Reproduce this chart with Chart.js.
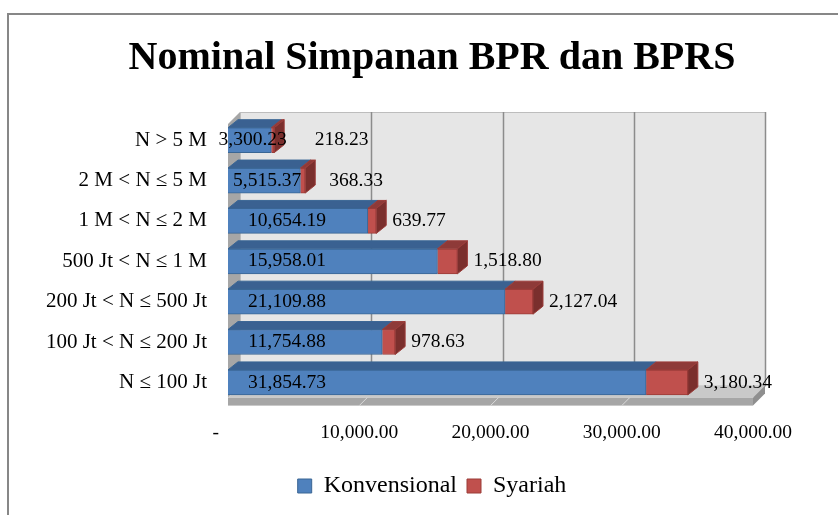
<!DOCTYPE html>
<html>
<head>
<meta charset="utf-8">
<script src="https://cdn.jsdelivr.net/npm/chart.js@4"></script>
<style>
  html, body { margin: 0; padding: 0; background: #fff; }
</style>
</head>
<body>
<canvas id="chart" width="838" height="515"></canvas>
<script>
const categories = ["N > 5 M", "2 M < N ≤ 5 M", "1 M < N ≤ 2 M", "500 Jt < N ≤ 1 M", "200 Jt < N ≤ 500 Jt", "100 Jt < N ≤ 200 Jt", "N ≤ 100 Jt"];
const konvensional = [3300.23, 5515.37, 10654.19, 15958.01, 21109.88, 11754.88, 31854.73];
const syariah = [218.23, 368.33, 639.77, 1518.80, 2127.04, 978.63, 3180.34];
const xTicks = [0, 10000, 20000, 30000, 40000];

const serif = "'Liberation Serif', 'DejaVu Serif', serif";

function fmt(v) {
    return v.toLocaleString("en-US", { minimumFractionDigits: 2, maximumFractionDigits: 2 });
}

// colours for the front, top and side faces
const faces = [
    { front: "#4f81bd", top: "#3a6191", side: "#2c4d75", edge: "#3a6694" },
    { front: "#c0504d", top: "#8e3a38", side: "#7a2f2d", edge: "#9b3c39" }
];

/** outer frame **/
const framePlugin = {
    id: "frame",
    beforeDraw(chart) {
        const ctx = chart.ctx;
        ctx.save();
        ctx.strokeStyle = "#878787";
        ctx.lineWidth = 2;
        ctx.strokeRect(8, 14, 900, 600);
        ctx.restore();
    }
};

/** walls, floor and the 3D faces of the bars **/
const D = 12;          // wall depth
const bx = 10, by = 8; // bar depth

const walls3d = {
    id: "walls3d",
    beforeDatasetsDraw(chart) {
        const { left, right, top, bottom } = chart.chartArea;
        const xs = chart.scales.x;
        const ctx = chart.ctx;
        const floorTop = bottom - 5, floorBottom = bottom + 3;
        const wallTop = top - 8;
        ctx.save();
        // back wall
        ctx.fillStyle = "#e6e6e6";
        ctx.fillRect(left + D, wallTop, right - left, floorTop - D - wallTop);
        ctx.strokeStyle = "#bdbdbd";
        ctx.lineWidth = 1;
        ctx.strokeRect(left + D + 0.5, wallTop + 0.5, right - left, floorTop - D - wallTop);
        // left side wall
        ctx.fillStyle = "#a6a6a6";
        ctx.beginPath();
        ctx.moveTo(left, wallTop + D);
        ctx.lineTo(left + D, wallTop);
        ctx.lineTo(left + D, floorTop - D);
        ctx.lineTo(left, floorTop);
        ctx.closePath();
        ctx.fill();
        // grid lines on the back wall
        ctx.strokeStyle = "#8c8c8c";
        ctx.lineWidth = 1.5;
        xTicks.forEach(v => {
            if (v === 0) return;
            const x = Math.round(xs.getPixelForValue(v)) + D + 0.5;
            ctx.beginPath();
            ctx.moveTo(x, wallTop);
            ctx.lineTo(x, floorTop - D);
            ctx.stroke();
        });
        // floor top
        ctx.fillStyle = "#c9c9c9";
        ctx.beginPath();
        ctx.moveTo(left, floorTop);
        ctx.lineTo(left + D, floorTop - D);
        ctx.lineTo(right + D, floorTop - D);
        ctx.lineTo(right, floorTop);
        ctx.closePath();
        ctx.fill();
        // floor front
        ctx.fillStyle = "#a6a6a6";
        ctx.fillRect(left, floorTop, right - left, floorBottom - floorTop);
        // floor right side
        ctx.fillStyle = "#8f8f8f";
        ctx.beginPath();
        ctx.moveTo(right, floorTop);
        ctx.lineTo(right + D, floorTop - D);
        ctx.lineTo(right + D, floorBottom - D);
        ctx.lineTo(right, floorBottom);
        ctx.closePath();
        ctx.fill();
        // tick marks on the floor
        ctx.strokeStyle = "#d9d9d9";
        ctx.lineWidth = 1;
        xTicks.forEach(v => {
            if (v === 0 || v === 40000) return;
            const x = xs.getPixelForValue(v);
            ctx.beginPath();
            ctx.moveTo(x, floorBottom);
            ctx.lineTo(x + 8, floorTop);
            ctx.stroke();
        });
        ctx.restore();
    },
    afterDatasetsDraw(chart) {
        const ctx = chart.ctx;
        const last = chart.data.datasets.length - 1;
        ctx.save();
        ctx.lineWidth = 1;
        chart.data.datasets.forEach((ds, di) => {
            const meta = chart.getDatasetMeta(di);
            const c = faces[di];
            meta.data.forEach(bar => {
                const { x, y, base, height } = bar.getProps(["x", "y", "base", "height"], true);
                const t = y - height / 2, b = y + height / 2;
                // top face
                ctx.fillStyle = c.top;
                ctx.strokeStyle = c.edge;
                ctx.beginPath();
                ctx.moveTo(base, t);
                ctx.lineTo(base + bx, t - by);
                ctx.lineTo(x + bx, t - by);
                ctx.lineTo(x, t);
                ctx.closePath();
                ctx.fill();
                ctx.stroke();
                // right face, only the outer segment shows it
                if (di === last) {
                    ctx.fillStyle = c.side;
                    ctx.beginPath();
                    ctx.moveTo(x, t);
                    ctx.lineTo(x + bx, t - by);
                    ctx.lineTo(x + bx, b - by);
                    ctx.lineTo(x, b);
                    ctx.closePath();
                    ctx.fill();
                    ctx.stroke();
                }
            });
        });

        // data labels
        ctx.font = "19.5px " + serif;
        ctx.fillStyle = "#000";
        ctx.textBaseline = "middle";
        const m0 = chart.getDatasetMeta(0), m1 = chart.getDatasetMeta(1);
        const konvRight = [];
        m0.data.forEach((bar, i) => {
            const { x, y, base } = bar.getProps(["x", "y", "base"], true);
            const txt = fmt(konvensional[i]);
            const cx = base + Math.min((x - base) / 2 + 3, 59);
            konvRight[i] = cx + ctx.measureText(txt).width / 2;
            ctx.textAlign = "center";
            ctx.fillText(txt, cx, y);
        });
        m1.data.forEach((bar, i) => {
            const { x, y } = bar.getProps(["x", "y"], true);
            ctx.textAlign = "left";
            ctx.fillText(fmt(syariah[i]), Math.max(x + 16, konvRight[i] + 28), y);
        });
        ctx.restore();
    }
};

new Chart(document.getElementById("chart"), {
    type: "bar",
    data: {
        labels: categories,
        datasets: [
            {
                label: "Konvensional",
                data: konvensional,
                backgroundColor: faces[0].front,
                borderColor: faces[0].edge,
                borderWidth: 1,
                barThickness: 25
            },
            {
                label: "Syariah",
                data: syariah,
                backgroundColor: faces[1].front,
                borderColor: faces[1].edge,
                borderWidth: 1,
                barThickness: 25
            }
        ]
    },
    options: {
        indexAxis: "y",
        responsive: false,
        animation: false,
        devicePixelRatio: 1,
        layout: { padding: { left: 28, right: 2, top: 11, bottom: 7 } },
        plugins: {
            title: {
                display: true,
                text: "Nominal Simpanan BPR dan BPRS",
                color: "#000",
                font: { family: serif, size: 40, weight: "bold" },
                padding: { top: 24, bottom: 37 }
            },
            legend: {
                position: "bottom",
                labels: {
                    color: "#000",
                    font: { family: serif, size: 24 },
                    boxWidth: 14,
                    boxHeight: 14,
                    padding: 10
                }
            },
            tooltip: { enabled: false }
        },
        scales: {
            x: {
                stacked: true,
                min: 0,
                max: 40000,
                afterBuildTicks: scale => { scale.ticks = xTicks.map(v => ({ value: v })); },
                grid: { display: false, drawTicks: false },
                border: { display: false },
                ticks: {
                    color: "#000",
                    font: { family: serif, size: 19.5 },
                    padding: 19,
                    maxRotation: 0,
                    callback: v => v === 0 ? "-     " : fmt(v)
                }
            },
            y: {
                stacked: true,
                grid: { display: false, drawTicks: false },
                border: { display: false },
                afterFit: scale => { scale.width = 200; },
                ticks: {
                    color: "#000",
                    font: { family: serif, size: 21 },
                    padding: 21
                }
            },
            // empty axis on the right, keeps room for the outer labels
            yRight: {
                type: "category",
                labels: categories,
                position: "right",
                grid: { display: false, drawTicks: false },
                border: { display: false },
                ticks: { display: false },
                afterFit: scale => { scale.width = 83; }
            }
        }
    },
    plugins: [framePlugin, walls3d]
});
</script>
</body>
</html>
